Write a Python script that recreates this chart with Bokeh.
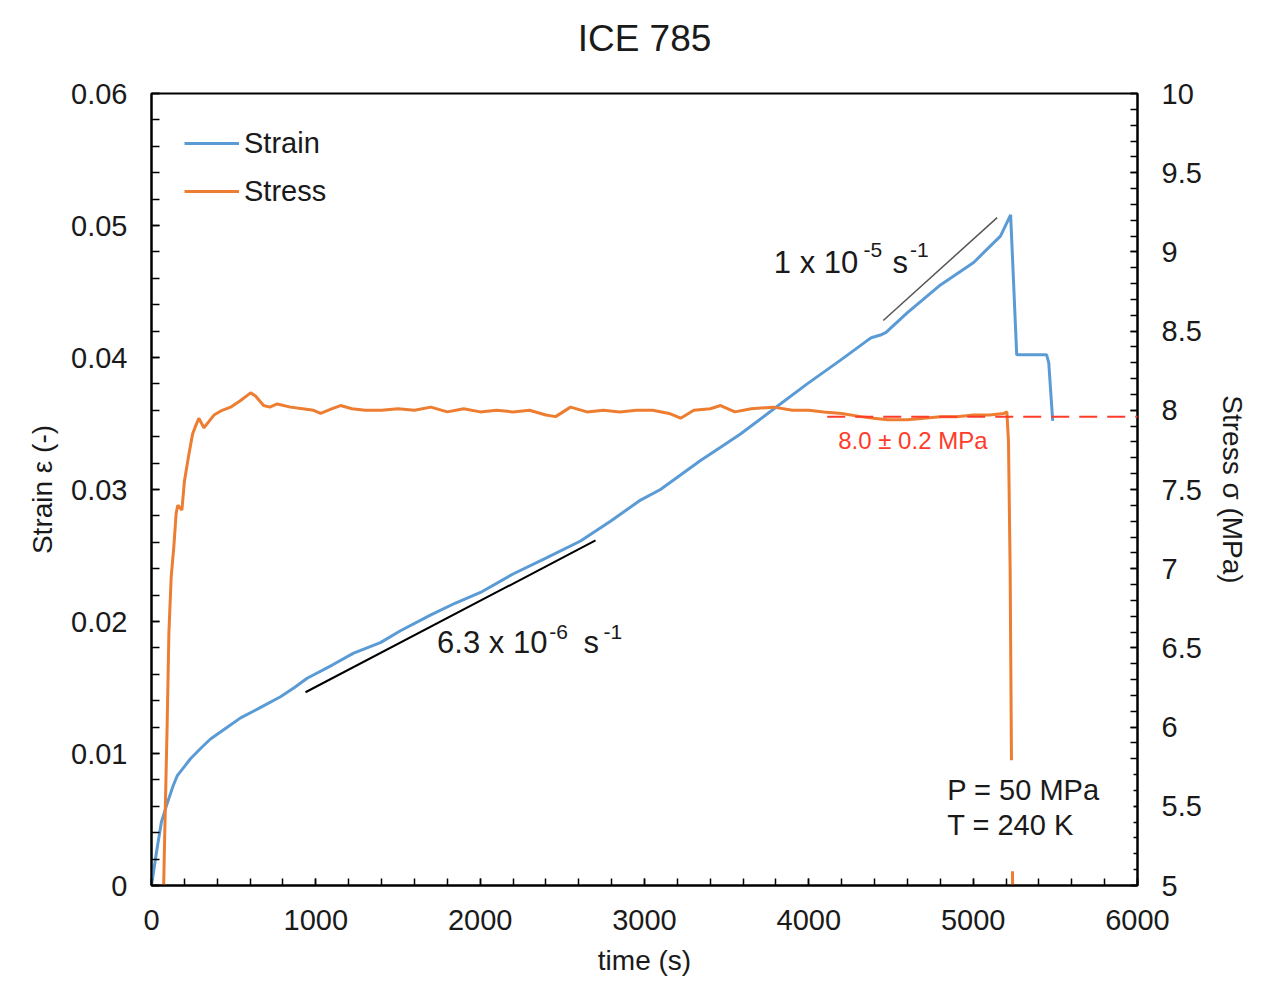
from bokeh.plotting import figure
from bokeh.models import (Range1d, LinearAxis, FixedTicker, Label, Arrow,
                          BoxAnnotation, Legend, LegendItem)
from bokeh.embed import file_html
from bokeh.resources import INLINE

# ---------------- data ----------------
title_text = "ICE 785"

strain_time = [0, 30, 60, 95, 130, 156, 200, 237, 300, 359, 450, 542, 650, 785,
               870, 947, 1100, 1230, 1393, 1515, 1700, 1850, 2002, 2200, 2400,
               2611, 2793, 2976, 3097, 3341, 3463, 3584, 3786, 3990, 4193,
               4357, 4380, 4436, 4470, 4600, 4801, 5003, 5166, 5228, 5265,
               5447, 5460, 5484]
strain_values = [0, 0.0025, 0.0048, 0.0062, 0.0075, 0.0083, 0.0090, 0.0096,
                 0.0104, 0.0111, 0.0119, 0.0127, 0.0134, 0.0143, 0.0150,
                 0.0157, 0.0167, 0.0176, 0.0184, 0.0193, 0.0205, 0.0214,
                 0.0222, 0.0236, 0.0248, 0.0261, 0.0276, 0.0292, 0.0300,
                 0.0322, 0.0332, 0.0342, 0.0361, 0.0380, 0.0398, 0.0413,
                 0.0415, 0.0417, 0.0419, 0.0434, 0.0455, 0.0472, 0.0492,
                 0.0508, 0.0402, 0.0402, 0.0396, 0.0352]

stress_time = [70, 80, 95, 106, 120, 136, 150, 160, 185, 200, 227, 250, 268,
               288, 319, 350, 380, 430, 481, 540, 603, 633, 682, 720, 765, 846,
               920, 986, 1029, 1100, 1150, 1220, 1300, 1400, 1500, 1600, 1700,
               1800, 1900, 2000, 2100, 2200, 2300, 2400, 2459, 2550, 2650,
               2750, 2850, 2950, 3050, 3150, 3220, 3300, 3400, 3463, 3550,
               3650, 3786, 3900, 4000, 4090, 4200, 4315, 4394, 4480, 4601,
               4700, 4802, 4900, 5003, 5100, 5186, 5205, 5215, 5225, 5235,
               5245]
stress_values = [4.8, 5.3, 6.0, 6.6, 6.95, 7.14, 7.35, 7.40, 7.37, 7.55, 7.72,
                 7.85, 7.90, 7.95, 7.89, 7.93, 7.97, 8.00, 8.02, 8.06, 8.11,
                 8.09, 8.03, 8.02, 8.04, 8.02, 8.01, 8.00, 7.98, 8.01, 8.03,
                 8.01, 8.00, 8.00, 8.01, 8.00, 8.02, 7.99, 8.01, 7.99, 8.00,
                 7.99, 8.00, 7.97, 7.96, 8.02, 7.99, 8.00, 7.99, 8.00, 8.00,
                 7.98, 7.95, 8.00, 8.01, 8.03, 7.99, 8.01, 8.02, 8.00, 8.00,
                 7.99, 7.98, 7.96, 7.95, 7.94, 7.94, 7.95, 7.96, 7.96, 7.97,
                 7.97, 7.98, 7.99, 7.80, 7.00, 5.50, 4.50]

# strain-rate fit lines
fit_slow_time = [937, 2702]
fit_slow_strain = [0.01464, 0.02614]
fit_fast_time = [4453, 5146]
fit_fast_strain = [0.0428, 0.0506]

# mean stress level line
mean_stress_time = [4112, 6250]
mean_stress_level = 7.96

x_ticks = [0, 1000, 2000, 3000, 4000, 5000, 6000]
x_minor = list(range(0, 6001, 200))
strain_ticks = [0, 0.01, 0.02, 0.03, 0.04, 0.05, 0.06]
strain_tick_labels = ["0", "0.01", "0.02", "0.03", "0.04", "0.05", "0.06"]
strain_minor = [i * 0.002 for i in range(31)]
stress_ticks = [5, 5.5, 6, 6.5, 7, 7.5, 8, 8.5, 9, 9.5, 10]
stress_tick_labels = ["5", "5.5", "6", "6.5", "7", "7.5", "8", "8.5", "9", "9.5", "10"]
stress_minor = [5 + i * 0.1 for i in range(51)]

FONT = "Liberation Sans"
TXT = "#1a1a1a"
BLUE = "#5B9BD5"
ORANGE = "#ED7D31"
RED = "#FF3B2A"

p = figure(width=1254, height=990, output_backend="svg", toolbar_location=None,
           x_range=Range1d(0, 6000), y_range=Range1d(0, 0.06),
           min_border_left=151, min_border_right=117, min_border_top=93,
           min_border_bottom=105)
p.extra_y_ranges = {"stress": Range1d(5, 10)}
p.grid.visible = False
p.outline_line_color = "black"
p.outline_line_width = 2
p.outline_line_alpha = 1

def style_axis(ax, tick_len):
    ax.axis_line_color = "black"
    ax.axis_line_width = 2
    ax.major_tick_line_width = 1.5
    ax.minor_tick_line_width = 1.5
    ax.major_tick_line_color = "black"
    ax.minor_tick_line_color = "black"
    ax.major_tick_in = tick_len
    ax.major_tick_out = 0
    ax.minor_tick_in = tick_len
    ax.minor_tick_out = 0
    ax.major_label_text_font = FONT
    ax.major_label_text_font_size = "29px"
    ax.major_label_text_color = TXT
    ax.axis_label_text_font = FONT
    ax.axis_label_text_font_size = "28px"
    ax.axis_label_text_font_style = "normal"
    ax.axis_label_text_color = TXT

xax = p.xaxis[0]
xax.ticker = FixedTicker(ticks=x_ticks, minor_ticks=x_minor)
xax.axis_label = "time (s)"
style_axis(xax, 7)
xax.major_label_standoff = 24
xax.axis_label_standoff = 12

yax = p.yaxis[0]
yax.ticker = FixedTicker(ticks=strain_ticks, minor_ticks=strain_minor)
yax.major_label_overrides = {t: l for t, l in zip(strain_ticks, strain_tick_labels)}
yax.axis_label = "Strain ε (-)"
style_axis(yax, 8)
yax.major_label_standoff = 24
yax.axis_label_standoff = 10

rax = LinearAxis(y_range_name="stress", axis_label="Stress σ (MPa)")
rax.ticker = FixedTicker(ticks=stress_ticks, minor_ticks=stress_minor)
rax.major_label_overrides = {t: l for t, l in zip(stress_ticks, stress_tick_labels)}
style_axis(rax, 7)
rax.major_label_standoff = 24
rax.axis_label_standoff = 12
p.add_layout(rax, "right")

# chart title, carried by a tick-less axis above the frame
tax = LinearAxis(axis_label=title_text, ticker=FixedTicker(ticks=[]))
tax.axis_line_alpha = 0
tax.major_tick_line_alpha = 0
tax.minor_tick_line_alpha = 0
tax.major_tick_in = 0
tax.major_tick_out = 0
tax.minor_tick_in = 0
tax.minor_tick_out = 0
tax.major_label_text_font_size = "0px"
tax.major_label_standoff = 0
tax.axis_label_text_font = FONT
tax.axis_label_text_font_size = "37px"
tax.axis_label_text_font_style = "normal"
tax.axis_label_text_color = TXT
tax.axis_label_standoff = 35
p.add_layout(tax, "above")

# ---------------- series ----------------
r_strain = p.line(strain_time, strain_values, line_color=BLUE, line_width=3)
r_stress = p.line(stress_time, stress_values, line_color=ORANGE, line_width=3,
                  y_range_name="stress")

# fit lines
p.line(fit_slow_time, fit_slow_strain, line_color="black", line_width=2)
p.line(fit_fast_time, fit_fast_strain, line_color="#555555", line_width=1.5)

# mean stress dashed line
p.add_layout(Arrow(x_start=mean_stress_time[0], y_start=mean_stress_level,
                   x_end=mean_stress_time[1], y_end=mean_stress_level,
                   end=None, line_color=RED, line_width=2, line_dash="18 10",
                   y_range_name="stress"))

# white box behind the P/T text
p.add_layout(BoxAnnotation(left=4801, right=5976, bottom=5.09, top=5.79,
                           y_range_name="stress", fill_color="white",
                           fill_alpha=1, line_alpha=0))

def lab(x, y, text, size, color=TXT, yr="default"):
    p.add_layout(Label(x=x, y=y, text=text, text_font=FONT,
                       text_font_size=size, text_color=color,
                       text_align="left", text_baseline="alphabetic",
                       y_range_name=yr))

# 6.3 x 10^-6 s^-1
lab(1738, 0.01843, "6.3 x 10", "31px")
lab(2420, 0.01919, "-6", "21px")
lab(2629, 0.01843, "s", "31px")
lab(2750, 0.01919, "-1", "21px")
# 1 x 10^-5 s^-1
lab(3787, 0.04722, "1 x 10", "31px")
lab(4332, 0.04811, "-5", "21px")
lab(4509, 0.04722, "s", "31px")
lab(4616, 0.04811, "-1", "21px")
# mean stress
lab(4179, 0.03372, "8.0 ± 0.2 MPa", "24px", color=RED)
# conditions
lab(4842, 0.00720, "P = 50 MPa", "29px")
lab(4842, 0.00455, "T = 240 K", "29px")

legend = Legend(items=[LegendItem(label="Strain", renderers=[r_strain]),
                       LegendItem(label="Stress", renderers=[r_stress])],
                location="top_left")
legend.background_fill_alpha = 0
legend.border_line_alpha = 0
legend.margin = 0
legend.padding = 33
legend.spacing = 14
legend.glyph_width = 55
legend.glyph_height = 34
legend.label_height = 34
legend.label_standoff = 5
legend.label_text_font = FONT
legend.label_text_font_size = "29px"
legend.label_text_color = TXT
p.add_layout(legend, "center")

open("out.html", "w").write(file_html(p, INLINE))
